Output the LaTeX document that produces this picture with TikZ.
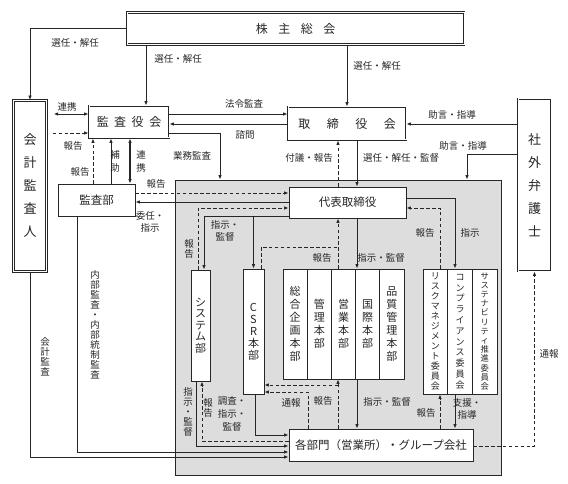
\documentclass[tikz,border=0pt]{standalone}
\usepackage{fontspec}
\setmainfont{Noto Sans CJK JP}
\usetikzlibrary{arrows.meta,positioning}
\definecolor{ink}{RGB}{38,38,38}
\definecolor{panelgray}{RGB}{221,221,221}
\makeatletter
\newcommand\tate[1]{\tate@step#1\@nil}
\def\tate@step#1#2\@nil{#1\ifx\relax#2\relax\expandafter\@gobble\else\expandafter\@firstofone\fi{\\\tate@step#2\@nil}}
\makeatother
\tikzset{
  >={Latex[length=4.5pt,width=3.6pt]},
  box/.style={draw=ink, fill=white, line width=0.9pt, inner sep=0pt,
    text=ink},
  frame/.style={box, double=white, double distance=1pt},
  unit/.style={box, align=center, minimum width=24.2pt,
    minimum height=110pt, font=\fontsize{11}{13}\selectfont},
  committee/.style={box, align=center, minimum width=24.6pt,
    minimum height=125pt},
  con/.style={draw=ink, line width=0.9pt, ->},
  dline/.style={con, dash pattern=on 3.5pt off 2.4pt},
  lbl/.style={font=\fontsize{9.5}{10}\selectfont, text=ink, inner sep=0pt},
  vlbl/.style={lbl, align=center},
}

\begin{document}
\begin{tikzpicture}[x=1pt,y=-1pt]
    \useasboundingbox (0,0) rectangle (568,484);
    \node[box, fill=panelgray, minimum width=326pt, minimum height=295pt]
      (panel) at (338,327.5) {};
    \node[frame, minimum width=337pt, minimum height=32pt,
      font=\fontsize{12}{12}\selectfont] (meeting) at (295.5,28.5)
      {株\hspace{10.5pt}主\hspace{10.5pt}総\hspace{10.5pt}会};
    \node[frame, align=center, minimum width=32.5pt, minimum height=171pt,
      font=\fontsize{13}{23}\selectfont] (auditor) at (30,186)
      {\tate{会計監査人}};
    \node[frame, minimum width=80pt, minimum height=32pt,
      font=\fontsize{12}{12}\selectfont] (kansa) at (129,122)
      {監\hspace{5.5pt}査\hspace{5.5pt}役\hspace{5.5pt}会};
    \node[frame, minimum width=118pt, minimum height=33pt,
      font=\fontsize{12}{12}\selectfont] (board) at (347,123.5)
      {取\hspace{16.5pt}締\hspace{16.5pt}役\hspace{16.5pt}会};
    \node[frame, align=center, minimum width=33pt, minimum height=172pt,
      font=\fontsize{13}{23}\selectfont] (lawyer) at (534.5,185)
      {\tate{社外弁護士}};
    \node[box, minimum width=77pt, minimum height=32pt,
      font=\fontsize{11.5}{12}\selectfont] (audit) at (96.5,200) {監査部};
    \node[box, minimum width=117pt, minimum height=31pt,
      font=\fontsize{11.5}{12}\selectfont] (ceo) at (347.5,202.5)
      {代表取締役};
    \node[box, align=center, minimum width=19pt, minimum height=111pt,
      font=\fontsize{11}{11.5}\selectfont] (system) at (200.5,325.5)
      {\tate{システム部}};
    \node[box, align=center, minimum width=21pt, minimum height=125pt,
      font=\fontsize{11}{12}\selectfont] (csr) at (253.5,331.5)
      {\tate{CSR本部}};
    \node[unit] (plan) at (295.1,324) {\tate{総合企画本部}};
    \node[unit] (admin) at (319.3,324) {\tate{管理本部}};
    \node[unit] (sales) at (343.5,324) {\tate{営業本部}};
    \node[unit] (intl) at (367.7,324) {\tate{国際本部}};
    \node[unit] (quality) at (391.9,324) {\tate{品質管理本部}};
    \node[committee, font=\fontsize{9}{10}\selectfont] (risk)
      at (435.3,331.5) {\tate{リスクマネジメント委員会}};
    \node[committee, font=\fontsize{9}{10.8}\selectfont] (comp)
      at (460,331.5) {\tate{コンプライアンス委員会}};
    \node[committee, font=\fontsize{8.3}{9.2}\selectfont] (sust)
      at (484.7,331.5) {\tate{サステナビリティ推進委員会}};
    \node[box, minimum width=184pt, minimum height=32pt,
      font=\fontsize{11.5}{12}\selectfont] (branch) at (381,445)
      {各部門（営業所）・グループ会社};
    \coordinate (csrjoin) at (338,247);
    \coordinate (branchjoin) at (338,385);

    \draw[con] (meeting.west) -| (auditor.north);
    \draw[con] (146,0 |- meeting.south) -- (146,0 |- kansa.north);
    \draw[con] (board.north |- meeting.south) -- (board.north);
    \draw[con,<->,shorten <=7pt] (auditor.east |- 0,114) -- (kansa.west |- 0,114);
    \draw[dline,shorten <=6pt] (auditor.east |- 0,133) -- (kansa.west |- 0,133);
    \draw[dline] (93,0 |- audit.north) -- (93,0 |- kansa.south);
    \draw[con] (111,0 |- audit.north) -- (111,0 |- kansa.south);
    \draw[con,<->,line width=1.6pt] (130,0 |- kansa.south) -- (130,0 |- audit.north);
    \draw[con] (kansa.east |- 0,114) -- (board.west |- 0,114);
    \draw[con] (board.west |- 0,124) -- (kansa.east |- 0,124);
    \draw[con] (kansa.east |- 0,133) -| (220,0 |- panel.north);
    \draw[dline] (audit.east |- 0,193) -- (ceo.west |- 0,193);
    \draw[con] (ceo.west |- 0,202) -- (audit.east |- 0,202);
    \draw[dline] (198,0 |- system.north) |- (ceo.west |- 0,208);
    \draw[con] (ceo.west |- 0,216) -| (204,0 |- system.north);
    \draw[con] (csr.north |- 0,216) -- (csr.north);
    \draw[dline,-] (261,0 |- csr.north) |- (csrjoin);
    \draw[dline] (338,0 |- sales.north) -- (338,0 |- ceo.south);
    \draw[dline] (338,0 |- ceo.north) -- (338,0 |- board.south);
    \draw[con] (357,0 |- board.south) -- (357,0 |- ceo.north);
    \draw[con] (357,0 |- ceo.south) -- (357,0 |- intl.north);
    \draw[con] (ceo.east |- 0,198) -| (455,0 |- comp.north);
    \draw[dline] (440,0 |- risk.north) |- (ceo.east |- 0,208);
    \draw[con] (lawyer.west |- 0,124) -- (board.east |- 0,124);
    \draw[con] (lawyer.west |- 0,154) -| (467,0 |- panel.north);
    \draw[dline] (branch.east |- 0,446) -| (lawyer.south);
    \draw[con] (auditor.south) |- (branch.west |- 0,457);
    \draw[con] (77,0 |- audit.south) |- (branch.west |- 0,452);
    \draw[con] (196,0 |- system.south) |- (branch.west |- 0,446);
    \draw[dline] (branch.west |- 0,441) -| (202,0 |- system.south);
    \draw[con] (255,0 |- csr.south) |- (branch.west |- 0,435);
    \draw[dline] (338,0 |- branch.north) -- (338,0 |- sales.south);
    \draw[dline] (branchjoin) -- (csr.east |- branchjoin);
    \draw[dline] (308,0 |- branch.north) |- (csr.east |- 0,392);
    \draw[con] (357,0 |- intl.south) -- (357,0 |- branch.north);
    \draw[dline] (440,0 |- branch.north) -- (440,0 |- risk.south);
    \draw[con] (455,0 |- comp.south) -- (455,0 |- branch.north);

    \node[lbl] (selA) at (75,43) {選任・解任};
    \node[lbl] (selB) at (178,59) {選任・解任};
    \node[lbl] (selC) at (377,66) {選任・解任};
    \node[lbl] (linkA) at (67,107) {連携};
    \node[lbl] (repA) at (73,146) {報告};
    \node[lbl] (repB) at (80,172) {報告};
    \node[vlbl, font=\fontsize{9.5}{13}\selectfont] (assist) at (115,161)
      {\tate{補助}};
    \node[vlbl, font=\fontsize{9.5}{13}\selectfont] (linkB) at (141,161)
      {\tate{連携}};
    \node[lbl] (legal) at (244,104) {法令監査};
    \node[lbl] (consult) at (245,135) {諮問};
    \node[lbl] (ops) at (192,156) {業務監査};
    \node[lbl] (repC) at (156,184) {報告};
    \node[vlbl, font=\fontsize{9.5}{12}\selectfont] (delegate) at (150,222)
      {委任・\\指示};
    \node[lbl] (agenda) at (309,158) {付議・報告};
    \node[lbl] (appoint) at (401,158) {選任・解任・監督};
    \node[lbl] (adviseA) at (452,115) {助言・指導};
    \node[lbl] (adviseB) at (463,146) {助言・指導};
    \node[lbl] (repD) at (425,233) {報告};
    \node[lbl] (order) at (470,233) {指示};
    \node[vlbl, font=\fontsize{9.5}{12.5}\selectfont] (superA) at (225,231)
      {指示・\\監督};
    \node[vlbl] (repE) at (189,249) {\tate{報告}};
    \node[lbl] (repF) at (322,258) {報告};
    \node[lbl] (superB) at (381,258) {指示・監督};
    \node[vlbl] (superC) at (188,412) {\tate{指示・監督}};
    \node[vlbl] (repG) at (208,408) {\tate{報告}};
    \node[vlbl, font=\fontsize{9.5}{13}\selectfont] (survey) at (232,414)
      {調査・\\指示・\\監督};
    \node[lbl] (whistleA) at (291,403) {通報};
    \node[lbl] (repH) at (323,401) {報告};
    \node[lbl] (superD) at (387,402) {指示・監督};
    \node[lbl] (repI) at (426,413) {報告};
    \node[vlbl, font=\fontsize{9.5}{12}\selectfont] (support) at (467,409)
      {支援・\\指導};
    \node[lbl] (whistleB) at (549,354) {通報};
    \node[vlbl] (acct) at (45,357) {\tate{会計監査}};
    \node[vlbl] (internal) at (95,325) {\tate{内部監査・内部統制監査}};
\end{tikzpicture}
\end{document}
